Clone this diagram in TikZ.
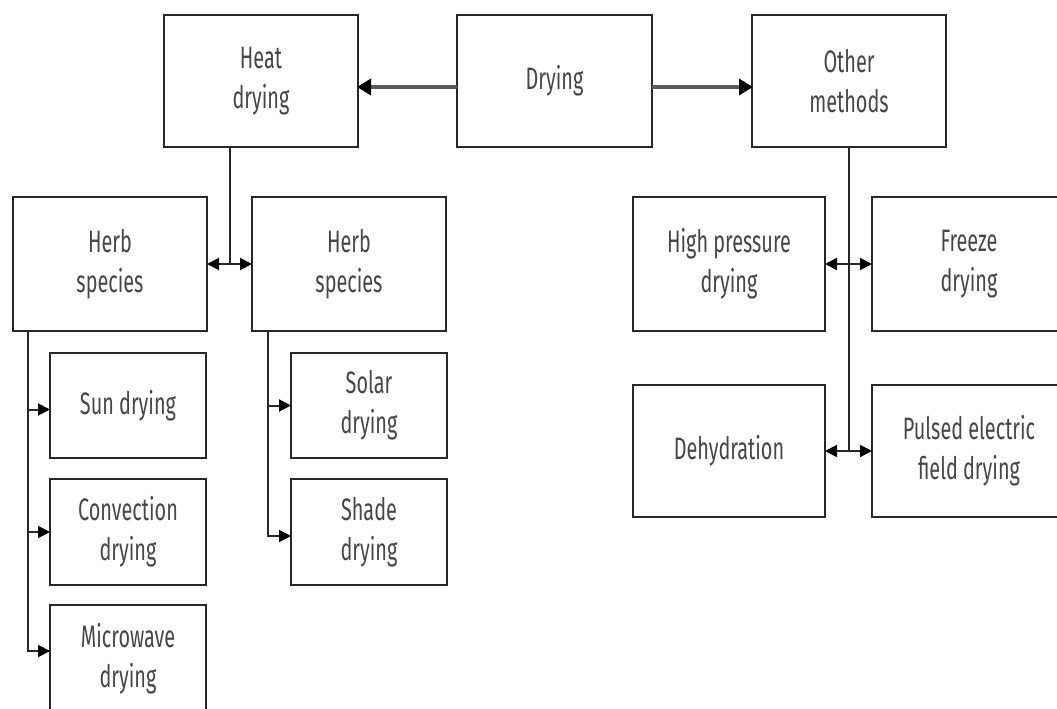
\documentclass[tikz,border=0pt]{standalone}
\usepackage{fontspec}
\setmainfont{Fira Sans}[FakeStretch=0.64]
\usetikzlibrary{arrows.meta,calc}
\definecolor{txt}{RGB}{70,70,70}
\definecolor{ln}{RGB}{40,40,40}
\definecolor{mainln}{RGB}{90,90,90}
\begin{document}
\begin{tikzpicture}[x=1pt,y=-1pt,
  box/.style={draw=ln, line width=2.6pt, anchor=north west, align=center, text=txt,
    font=\fontsize{31pt}{40pt}\selectfont, inner sep=0pt, outer sep=0pt},
  conn/.style={draw=ln, line width=2pt},
  arr/.style={conn, -{Triangle[length=12pt,width=12pt,color=black]}},
  darr/.style={conn, {Triangle[length=12pt,width=12pt,color=black]}-{Triangle[length=12pt,width=12pt,color=black]}},
  mainarr/.style={draw=mainln, line width=3.5pt, -{Triangle[length=14pt,width=16pt,color=black]}, shorten >=-1pt}]
\useasboundingbox (0,0) rectangle (1057,709);
% top row
\node[box, minimum width=194pt, minimum height=132pt] (heat) at (164,15) {Heat\\drying};
\node[box, minimum width=195pt, minimum height=132pt] (dry) at (457,15) {Drying};
\node[box, minimum width=194pt, minimum height=132pt] (other) at (752,15) {Other\\methods};
% herb species
\node[box, minimum width=194pt, minimum height=134pt] (herbL) at (13,197) {Herb\\species};
\node[box, minimum width=194pt, minimum height=134pt] (herbR) at (252,197) {Herb\\species};
% left leaves
\node[box, minimum width=156pt, minimum height=105pt] (sun) at (50,353) {Sun drying};
\node[box, minimum width=156pt, minimum height=106pt] (conv) at (50,479) {Convection\\drying};
\node[box, minimum width=156pt, minimum height=108pt] (micro) at (50,605) {Microwave\\drying};
% right-herb leaves
\node[box, minimum width=156pt, minimum height=105pt] (solar) at (291,353) {Solar\\drying};
\node[box, minimum width=156pt, minimum height=106pt] (shade) at (291,479) {Shade\\drying};
% other methods
\node[box, minimum width=192pt, minimum height=134pt] (hp) at (633,197) {High pressure\\drying};
\node[box, minimum width=194pt, minimum height=134pt] (freeze) at (872,197) {Freeze\\drying};
\node[box, minimum width=192pt, minimum height=132pt] (dehyd) at (633,385) {Dehydration};
\node[box, minimum width=194pt, minimum height=132pt] (pulsed) at (872,385) {Pulsed electric\\field drying};
% main arrows
\draw[mainarr] ([yshift=-6pt]dry.west) -- ([yshift=-6pt]heat.east);
\draw[mainarr] ([yshift=-6pt]dry.east) -- ([yshift=-6pt]other.west);
% heat drying branch
\coordinate (hj) at ($(herbL.east)!0.5!(herbR.west)$);
\draw[conn] (hj |- heat.south) -- (hj);
\draw[darr] (herbL.east) -- (herbR.west);
% left spine
\coordinate (ls) at (28,331);
\draw[conn] (ls) |- ([yshift=8pt]micro.west);
\draw[arr] (ls |- sun.west) ++(0,4) -- ([yshift=-4pt]sun.west);
\draw[arr] (ls |- conv.west) -- (conv.west);
\draw[arr] (ls |- micro.west) ++(0,-8) -- ([yshift=8pt]micro.west);
% right herb spine
\coordinate (rs) at (268,331);
\draw[conn] (rs) |- ([yshift=-4pt]shade.west);
\draw[arr] (rs |- solar.west) -- (solar.west);
\draw[arr] (rs |- shade.west) ++(0,4) -- ([yshift=-4pt]shade.west);
% other methods spine
\coordinate (oj) at ($(hp.east)!0.5!(freeze.west)$);
\draw[conn] (oj |- other.south) -- (oj |- dehyd.east);
\draw[darr] (hp.east) -- (freeze.west);
\draw[darr] (dehyd.east) -- (pulsed.west);
\end{tikzpicture}
\end{document}
